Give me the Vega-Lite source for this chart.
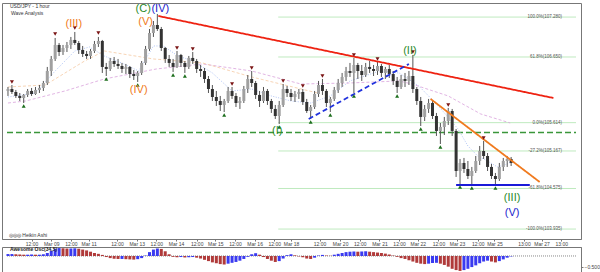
{
 "$schema": "https://vega.github.io/schema/vega-lite/v6.json",
 "background": "white",
 "padding": {"left": 1, "top": 2, "right": 0, "bottom": 0},
 "spacing": -3,
 "config": {
  "view": {"stroke": "#777"},
  "font": "Liberation Sans",
  "axis": {"domainColor": "#777", "tickColor": "#777", "labelColor": "#444", "labelFont": "Liberation Sans", "grid": false, "title": null}
 },
 "datasets": {
  "c": [
   {"t":0,"o":106.114,"h":106.177,"l":106.035,"c":106.145},
   {"t":1,"o":106.145,"h":106.208,"l":106.066,"c":106.098},
   {"t":2,"o":106.098,"h":106.130,"l":106.003,"c":106.035},
   {"t":3,"o":106.035,"h":106.082,"l":105.956,"c":106.003},
   {"t":4,"o":106.003,"h":106.066,"l":105.924,"c":106.051},
   {"t":5,"o":106.051,"h":106.145,"l":106.019,"c":106.114},
   {"t":6,"o":106.114,"h":106.161,"l":106.035,"c":106.066},
   {"t":7,"o":106.066,"h":106.177,"l":106.051,"c":106.130},
   {"t":8,"o":106.130,"h":106.208,"l":106.082,"c":106.161},
   {"t":9,"o":106.161,"h":106.272,"l":106.114,"c":106.240},
   {"t":10,"o":106.240,"h":106.493,"l":106.208,"c":106.429},
   {"t":11,"o":106.429,"h":106.666,"l":106.350,"c":106.619},
   {"t":12,"o":106.619,"h":106.950,"l":106.587,"c":106.840},
   {"t":13,"o":106.840,"h":106.871,"l":106.666,"c":106.729},
   {"t":14,"o":106.729,"h":106.840,"l":106.682,"c":106.792},
   {"t":15,"o":106.792,"h":106.887,"l":106.729,"c":106.840},
   {"t":16,"o":106.840,"h":106.966,"l":106.777,"c":106.919},
   {"t":17,"o":106.919,"h":107.045,"l":106.840,"c":106.871},
   {"t":18,"o":106.871,"h":106.903,"l":106.698,"c":106.761},
   {"t":19,"o":106.761,"h":106.824,"l":106.650,"c":106.698},
   {"t":20,"o":106.698,"h":106.745,"l":106.619,"c":106.666},
   {"t":21,"o":106.666,"h":106.777,"l":106.619,"c":106.745},
   {"t":22,"o":106.745,"h":106.903,"l":106.713,"c":106.855},
   {"t":23,"o":106.855,"h":106.966,"l":106.808,"c":106.903},
   {"t":24,"o":106.903,"h":106.919,"l":106.398,"c":106.493},
   {"t":25,"o":106.493,"h":106.556,"l":106.350,"c":106.461},
   {"t":26,"o":106.461,"h":106.635,"l":106.429,"c":106.587},
   {"t":27,"o":106.587,"h":106.650,"l":106.493,"c":106.540},
   {"t":28,"o":106.540,"h":106.619,"l":106.461,"c":106.508},
   {"t":29,"o":106.508,"h":106.556,"l":106.398,"c":106.461},
   {"t":30,"o":106.461,"h":106.540,"l":106.382,"c":106.493},
   {"t":31,"o":106.493,"h":106.508,"l":106.319,"c":106.382},
   {"t":32,"o":106.382,"h":106.445,"l":106.287,"c":106.350},
   {"t":33,"o":106.350,"h":106.429,"l":106.256,"c":106.398},
   {"t":34,"o":106.398,"h":106.587,"l":106.366,"c":106.556},
   {"t":35,"o":106.556,"h":106.824,"l":106.524,"c":106.777},
   {"t":36,"o":106.777,"h":107.092,"l":106.745,"c":107.029},
   {"t":37,"o":107.029,"h":107.218,"l":106.966,"c":107.155},
   {"t":38,"o":107.155,"h":107.329,"l":107.061,"c":107.092},
   {"t":39,"o":107.092,"h":107.124,"l":106.745,"c":106.792},
   {"t":40,"o":106.792,"h":106.808,"l":106.556,"c":106.619},
   {"t":41,"o":106.619,"h":106.682,"l":106.493,"c":106.556},
   {"t":42,"o":106.556,"h":106.619,"l":106.414,"c":106.493},
   {"t":43,"o":106.493,"h":106.745,"l":106.477,"c":106.682},
   {"t":44,"o":106.682,"h":106.698,"l":106.493,"c":106.556},
   {"t":45,"o":106.556,"h":106.587,"l":106.398,"c":106.493},
   {"t":46,"o":106.493,"h":106.666,"l":106.461,"c":106.635},
   {"t":47,"o":106.635,"h":106.729,"l":106.540,"c":106.587},
   {"t":48,"o":106.587,"h":106.619,"l":106.398,"c":106.461},
   {"t":49,"o":106.461,"h":106.524,"l":106.335,"c":106.429},
   {"t":50,"o":106.429,"h":106.477,"l":106.240,"c":106.303},
   {"t":51,"o":106.303,"h":106.350,"l":106.082,"c":106.145},
   {"t":52,"o":106.145,"h":106.208,"l":105.956,"c":106.019},
   {"t":53,"o":106.019,"h":106.114,"l":105.877,"c":105.956},
   {"t":54,"o":105.956,"h":106.035,"l":105.798,"c":105.893},
   {"t":55,"o":105.893,"h":105.988,"l":105.782,"c":105.956},
   {"t":56,"o":105.956,"h":106.177,"l":105.924,"c":106.114},
   {"t":57,"o":106.114,"h":106.177,"l":105.988,"c":106.035},
   {"t":58,"o":106.035,"h":106.082,"l":105.861,"c":105.924},
   {"t":59,"o":105.924,"h":106.019,"l":105.830,"c":105.956},
   {"t":60,"o":105.956,"h":106.193,"l":105.924,"c":106.145},
   {"t":61,"o":106.145,"h":106.366,"l":106.082,"c":106.303},
   {"t":62,"o":106.303,"h":106.429,"l":106.177,"c":106.240},
   {"t":63,"o":106.240,"h":106.272,"l":105.988,"c":106.051},
   {"t":64,"o":106.051,"h":106.114,"l":105.861,"c":105.956},
   {"t":65,"o":105.956,"h":106.177,"l":105.924,"c":106.114},
   {"t":66,"o":106.114,"h":106.145,"l":105.893,"c":105.956},
   {"t":67,"o":105.956,"h":105.988,"l":105.767,"c":105.830},
   {"t":68,"o":105.830,"h":105.893,"l":105.672,"c":105.719},
   {"t":69,"o":105.719,"h":105.956,"l":105.593,"c":105.893},
   {"t":70,"o":105.893,"h":106.224,"l":105.861,"c":106.145},
   {"t":71,"o":106.145,"h":106.193,"l":106.019,"c":106.082},
   {"t":72,"o":106.082,"h":106.145,"l":105.956,"c":106.019},
   {"t":73,"o":106.019,"h":106.114,"l":105.940,"c":106.066},
   {"t":74,"o":106.066,"h":106.145,"l":105.988,"c":106.098},
   {"t":75,"o":106.098,"h":106.145,"l":105.893,"c":105.940},
   {"t":76,"o":105.940,"h":105.988,"l":105.767,"c":105.798},
   {"t":77,"o":105.798,"h":105.893,"l":105.672,"c":105.861},
   {"t":78,"o":105.861,"h":106.114,"l":105.830,"c":106.066},
   {"t":79,"o":106.066,"h":106.272,"l":106.019,"c":106.208},
   {"t":80,"o":106.208,"h":106.303,"l":106.051,"c":106.114},
   {"t":81,"o":106.114,"h":106.145,"l":105.861,"c":105.924},
   {"t":82,"o":105.924,"h":106.019,"l":105.782,"c":105.988},
   {"t":83,"o":105.988,"h":106.177,"l":105.956,"c":106.130},
   {"t":84,"o":106.130,"h":106.303,"l":106.082,"c":106.240},
   {"t":85,"o":106.240,"h":106.398,"l":106.177,"c":106.335},
   {"t":86,"o":106.335,"h":106.493,"l":106.272,"c":106.429},
   {"t":87,"o":106.429,"h":106.556,"l":106.335,"c":106.398},
   {"t":88,"o":106.398,"h":106.635,"l":106.082,"c":106.524},
   {"t":89,"o":106.524,"h":106.556,"l":106.303,"c":106.429},
   {"t":90,"o":106.429,"h":106.524,"l":106.272,"c":106.366},
   {"t":91,"o":106.366,"h":106.556,"l":106.335,"c":106.493},
   {"t":92,"o":106.493,"h":106.587,"l":106.398,"c":106.461},
   {"t":93,"o":106.461,"h":106.524,"l":106.350,"c":106.429},
   {"t":94,"o":106.429,"h":106.571,"l":106.366,"c":106.508},
   {"t":95,"o":106.508,"h":106.540,"l":106.335,"c":106.398},
   {"t":96,"o":106.398,"h":106.493,"l":106.303,"c":106.461},
   {"t":97,"o":106.461,"h":106.524,"l":106.319,"c":106.382},
   {"t":98,"o":106.382,"h":106.429,"l":106.208,"c":106.272},
   {"t":99,"o":106.272,"h":106.335,"l":106.082,"c":106.177},
   {"t":100,"o":106.177,"h":106.366,"l":106.145,"c":106.303},
   {"t":101,"o":106.303,"h":106.398,"l":106.177,"c":106.272},
   {"t":102,"o":106.272,"h":106.429,"l":106.208,"c":106.350},
   {"t":103,"o":106.350,"h":106.682,"l":106.082,"c":106.145},
   {"t":104,"o":106.145,"h":106.177,"l":105.893,"c":105.956},
   {"t":105,"o":105.956,"h":106.019,"l":105.561,"c":105.704},
   {"t":106,"o":105.704,"h":105.893,"l":105.640,"c":105.830},
   {"t":107,"o":105.830,"h":105.988,"l":105.767,"c":105.924},
   {"t":108,"o":105.924,"h":105.956,"l":105.672,"c":105.719},
   {"t":109,"o":105.719,"h":105.767,"l":105.404,"c":105.483},
   {"t":110,"o":105.483,"h":105.609,"l":105.277,"c":105.546},
   {"t":111,"o":105.546,"h":105.704,"l":105.419,"c":105.640},
   {"t":112,"o":105.640,"h":105.846,"l":105.577,"c":105.798},
   {"t":113,"o":105.798,"h":105.830,"l":105.404,"c":105.483},
   {"t":114,"o":105.483,"h":105.514,"l":104.757,"c":104.851},
   {"t":115,"o":104.851,"h":105.041,"l":104.646,"c":104.978},
   {"t":116,"o":104.978,"h":105.057,"l":104.820,"c":104.883},
   {"t":117,"o":104.883,"h":105.009,"l":104.725,"c":104.772},
   {"t":118,"o":104.772,"h":104.915,"l":104.630,"c":104.851},
   {"t":119,"o":104.851,"h":105.088,"l":104.820,"c":105.009},
   {"t":120,"o":105.009,"h":105.246,"l":104.946,"c":105.167},
   {"t":121,"o":105.167,"h":105.325,"l":105.041,"c":105.088},
   {"t":122,"o":105.088,"h":105.135,"l":104.851,"c":104.915},
   {"t":123,"o":104.915,"h":104.962,"l":104.725,"c":104.772},
   {"t":124,"o":104.772,"h":104.820,"l":104.630,"c":104.725},
   {"t":125,"o":104.725,"h":104.978,"l":104.694,"c":104.915},
   {"t":126,"o":104.915,"h":105.057,"l":104.851,"c":105.009},
   {"t":127,"o":105.009,"h":105.088,"l":104.915,"c":105.041},
   {"t":128,"o":105.041,"h":105.072,"l":104.930,"c":104.978}
  ],
  "ao": [
   {"t":0,"v":0.09},{"t":1,"v":0.09},{"t":2,"v":0.08},{"t":3,"v":0.07},{"t":4,"v":0.06},{"t":5,"v":0.06},{"t":6,"v":0.07},{"t":7,"v":0.06},{"t":8,"v":0.06},{"t":9,"v":0.08},
   {"t":10,"v":0.14},{"t":11,"v":0.24},{"t":12,"v":0.33},{"t":13,"v":0.37},{"t":14,"v":0.36},{"t":15,"v":0.35},{"t":16,"v":0.35},{"t":17,"v":0.36},{"t":18,"v":0.34},{"t":19,"v":0.30},
   {"t":20,"v":0.26},{"t":21,"v":0.20},{"t":22,"v":0.14},{"t":23,"v":0.10},{"t":24,"v":0.05},{"t":25,"v":-0.05},{"t":26,"v":-0.10},{"t":27,"v":-0.13},{"t":28,"v":-0.14},{"t":29,"v":-0.14},
   {"t":30,"v":-0.15},{"t":31,"v":-0.16},{"t":32,"v":-0.17},{"t":33,"v":-0.15},{"t":34,"v":-0.10},{"t":35,"v":0.02},{"t":36,"v":0.18},{"t":37,"v":0.30},{"t":38,"v":0.35},{"t":39,"v":0.33},
   {"t":40,"v":0.22},{"t":41,"v":0.08},{"t":42,"v":-0.04},{"t":43,"v":-0.06},{"t":44,"v":-0.05},{"t":45,"v":-0.07},{"t":46,"v":-0.06},{"t":47,"v":-0.05},{"t":48,"v":-0.08},{"t":49,"v":-0.12},
   {"t":50,"v":-0.18},{"t":51,"v":-0.24},{"t":52,"v":-0.30},{"t":53,"v":-0.34},{"t":54,"v":-0.38},{"t":55,"v":-0.40},{"t":56,"v":-0.36},{"t":57,"v":-0.32},{"t":58,"v":-0.28},{"t":59,"v":-0.22},
   {"t":60,"v":-0.14},{"t":61,"v":-0.04},{"t":62,"v":0.08},{"t":63,"v":0.13},{"t":64,"v":0.06},{"t":65,"v":-0.05},{"t":66,"v":-0.14},{"t":67,"v":-0.22},{"t":68,"v":-0.28},{"t":69,"v":-0.24},
   {"t":70,"v":-0.12},{"t":71,"v":0.04},{"t":72,"v":0.08},{"t":73,"v":0.03},{"t":74,"v":-0.02},{"t":75,"v":-0.06},{"t":76,"v":-0.12},{"t":77,"v":-0.14},{"t":78,"v":-0.08},{"t":79,"v":0.02},
   {"t":80,"v":0.05},{"t":81,"v":0.02},{"t":82,"v":0.01},{"t":83,"v":0.06},{"t":84,"v":0.10},{"t":85,"v":0.14},{"t":86,"v":0.18},{"t":87,"v":0.20},{"t":88,"v":0.21},{"t":89,"v":0.20},
   {"t":90,"v":0.21},{"t":91,"v":0.22},{"t":92,"v":0.20},{"t":93,"v":0.18},{"t":94,"v":0.16},{"t":95,"v":0.14},{"t":96,"v":0.11},{"t":97,"v":0.07},{"t":98,"v":0.02},{"t":99,"v":-0.04},
   {"t":100,"v":-0.10},{"t":101,"v":-0.14},{"t":102,"v":-0.20},{"t":103,"v":-0.26},{"t":104,"v":-0.32},{"t":105,"v":-0.36},{"t":106,"v":-0.38},{"t":107,"v":-0.36},{"t":108,"v":-0.33},{"t":109,"v":-0.32},
   {"t":110,"v":-0.36},{"t":111,"v":-0.42},{"t":112,"v":-0.50},{"t":113,"v":-0.60},{"t":114,"v":-0.66},{"t":115,"v":-0.70},{"t":116,"v":-0.66},{"t":117,"v":-0.60},{"t":118,"v":-0.52},{"t":119,"v":-0.44},
   {"t":120,"v":-0.34},{"t":121,"v":-0.26},{"t":122,"v":-0.22},{"t":123,"v":-0.26},{"t":124,"v":-0.30},{"t":125,"v":-0.24},{"t":126,"v":-0.16},{"t":127,"v":-0.08},{"t":128,"v":-0.02}
  ],
  "mk": [
   {"t":1,"p":106.256,"k":"hi"},{"t":12,"p":107.013,"k":"hi"},{"t":17,"p":107.108,"k":"hi"},{"t":23,"p":107.029,"k":"hi"},
   {"t":43,"p":106.792,"k":"hi"},{"t":47,"p":106.777,"k":"hi"},{"t":57,"p":106.224,"k":"hi"},{"t":62,"p":106.477,"k":"hi"},
   {"t":70,"p":106.272,"k":"hi"},{"t":75,"p":106.193,"k":"hi"},{"t":80,"p":106.350,"k":"hi"},{"t":88,"p":106.682,"k":"hi"},
   {"t":94,"p":106.619,"k":"hi"},{"t":103,"p":106.729,"k":"hi"},{"t":112,"p":105.893,"k":"hi"},{"t":121,"p":105.372,"k":"hi"},
   {"t":4,"p":105.877,"k":"lo"},{"t":25,"p":106.303,"k":"lo"},{"t":33,"p":106.208,"k":"lo"},{"t":42,"p":106.366,"k":"lo"},
   {"t":45,"p":106.350,"k":"lo"},{"t":55,"p":105.735,"k":"lo"},{"t":69,"p":105.546,"k":"lo"},{"t":77,"p":105.625,"k":"lo"},
   {"t":82,"p":105.735,"k":"lo"},{"t":88,"p":106.035,"k":"lo"},{"t":99,"p":106.035,"k":"lo"},{"t":105,"p":105.514,"k":"lo"},
   {"t":110,"p":105.230,"k":"lo"},{"t":115,"p":104.599,"k":"lo"},{"t":118,"p":104.583,"k":"lo"},{"t":124,"p":104.583,"k":"lo"}
  ],
  "ma": [
   {"t":0,"p":106.019,"s":"fast"},{"t":7,"p":106.082,"s":"fast"},{"t":12,"p":106.429,"s":"fast"},{"t":17,"p":106.745,"s":"fast"},{"t":20.75,"p":106.808,"s":"fast"},{"t":24.5,"p":106.666,"s":"fast"},{"t":29.5,"p":106.540,"s":"fast"},{"t":33.25,"p":106.429,"s":"fast"},{"t":37,"p":106.824,"s":"fast"},{"t":39.5,"p":106.824,"s":"fast"},{"t":43.25,"p":106.666,"s":"fast"},{"t":47,"p":106.587,"s":"fast"},{"t":52,"p":106.398,"s":"fast"},{"t":57,"p":106.114,"s":"fast"},{"t":62,"p":106.145,"s":"fast"},{"t":67,"p":106.035,"s":"fast"},{"t":72,"p":105.956,"s":"fast"},{"t":77,"p":105.924,"s":"fast"},{"t":82,"p":106.035,"s":"fast"},{"t":87,"p":106.272,"s":"fast"},{"t":94.5,"p":106.429,"s":"fast"},{"t":99.5,"p":106.398,"s":"fast"},{"t":104.5,"p":106.193,"s":"fast"},{"t":109.5,"p":105.877,"s":"fast"},{"t":114.5,"p":105.514,"s":"fast"},{"t":117,"p":105.246,"s":"fast"},{"t":119.5,"p":105.088,"s":"fast"},{"t":122,"p":105.009,"s":"fast"},{"t":124.5,"p":104.915,"s":"fast"},{"t":127,"p":104.962,"s":"fast"},{"t":128,"p":104.994,"s":"fast"},
   {"t":0,"p":105.924,"s":"slow"},{"t":4.5,"p":105.956,"s":"slow"},{"t":14.5,"p":106.114,"s":"slow"},{"t":24.5,"p":106.303,"s":"slow"},{"t":37.75,"p":106.461,"s":"slow"},{"t":49.5,"p":106.540,"s":"slow"},{"t":62,"p":106.429,"s":"slow"},{"t":74.5,"p":106.224,"s":"slow"},{"t":87,"p":106.240,"s":"slow"},{"t":99.5,"p":106.272,"s":"slow"},{"t":102.75,"p":106.224,"s":"slow"},{"t":112,"p":106.035,"s":"slow"},{"t":120.25,"p":105.751,"s":"slow"},{"t":127.75,"p":105.609,"s":"slow"},
   {"t":0,"p":106.177,"s":"mid"},{"t":9.5,"p":106.208,"s":"mid"},{"t":19.5,"p":106.587,"s":"mid"},{"t":24.5,"p":106.745,"s":"mid"},{"t":37,"p":106.619,"s":"mid"},{"t":49.5,"p":106.556,"s":"mid"},{"t":62,"p":106.335,"s":"mid"},{"t":78.75,"p":106.082,"s":"mid"}
  ],
  "tl": [
   {"t":38.25,"p":107.297,"s":"res"},{"t":138.75,"p":106.003,"s":"res"},
   {"t":76.5,"p":105.672,"s":"chan"},{"t":102,"p":106.540,"s":"chan"},
   {"t":107.5,"p":105.988,"s":"wedge"},{"t":135.25,"p":104.678,"s":"wedge"},
   {"t":114,"p":104.630,"s":"sup"},{"t":132.75,"p":104.630,"s":"sup"}
  ],
  "fib": [
   {"p":107.280,"t":68.75,"t2":144.5,"lab":"100.0%(107.280)"},
   {"p":106.650,"t":68.75,"t2":144.5,"lab":"61.8%(106.650)"},
   {"p":105.614,"t":68.75,"t2":144.5,"lab":"0.0%(105.614)"},
   {"p":105.167,"t":68.75,"t2":144.5,"lab":"-27.2%(105.167)"},
   {"p":104.575,"t":68.75,"t2":144.5,"lab":"-61.8%(104.575)"},
   {"p":103.935,"t":68.75,"t2":144.5,"lab":"-100.0%(103.935)"}
  ],
  "lvl": [{"p":105.459,"t":-0.25,"t2":144.5}],
  "wv": [
   {"t":16.75,"p":107.171,"lab":"(III)","deg":"minor"},
   {"t":35,"p":107.203,"lab":"(V)","deg":"minor"},
   {"t":33.25,"p":106.130,"lab":"(IV)","deg":"minor"},
   {"t":34.4,"p":107.408,"lab":"(C)","deg":"primary"},
   {"t":38.75,"p":107.408,"lab":"(IV)","deg":"inter"},
   {"t":68.5,"p":105.483,"lab":"(I)","deg":"primary"},
   {"t":102.25,"p":106.745,"lab":"(II)","deg":"primary"},
   {"t":128.25,"p":104.425,"lab":"(III)","deg":"primary"},
   {"t":128.25,"p":104.189,"lab":"(V)","deg":"inter"}
  ],
  "notes": [
   {"t":0.5,"p":107.455,"lab":"USD/JPY - 1 hour"},
   {"t":0.75,"p":107.344,"lab":"Wave Analysis"},
   {"t":0.25,"p":103.841,"lab":"◎◎◎ Heikin Ashi"}
  ],
  "zero": [{"t":-0.25,"t2":144.5,"v":0}],
  "osclab": [{"t":0.5,"v":0.32,"lab":"Awesome Osc(34,5)"}]
 },
 "vconcat": [
  {
   "width": 579,
   "height": 236,
   "resolve": {"scale": {"color": "independent", "strokeDash": "independent", "shape": "independent"}},
   "encoding": {
    "x": {"field": "t", "type": "quantitative", "scale": {"domain": [-0.25, 144.5], "nice": false, "zero": false},
     "axis": {"orient": "bottom", "values": [6,11,16,20.5,27.75,32.75,37.75,42.75,48,52.75,57.75,62.75,67.75,72,79.25,84.5,89.5,94.5,99.5,104.25,109.5,114.25,119.5,123.75,131.25,135.75,140.75],
      "labelExpr": "['12:00','Mar 09','12:00','Mar 11','12:00','Mar 13','12:00','Mar 14','12:00','Mar 15','12:00','Mar 16','12:00','Mar 18','12:00','Mar 20','12:00','Mar 21','12:00','Mar 22','12:00','Mar 23','12:00','Mar 25','13:00','Mar 27','13:00'][indexof([6,11,16,20.5,27.75,32.75,37.75,42.75,48,52.75,57.75,62.75,67.75,72,79.25,84.5,89.5,94.5,99.5,104.25,109.5,114.25,119.5,123.75,131.25,135.75,140.75], datum.value)]",
      "labelFontSize": 5, "tickSize": 2, "labelPadding": 0, "labelFlush": false, "labelOverlap": false, "title": null}},
    "y": {"field": "p", "type": "quantitative", "scale": {"domain": [103.778, 107.502], "nice": false, "zero": false},
     "axis": {"orient": "right", "values": [104,104.25,104.5,104.75,105,105.25,105.5,105.75,106,106.25,106.5,106.75,107,107.25], "format": ".3f", "labelFontSize": 5, "tickSize": 2, "labelPadding": 1, "labelFlush": false, "labelOverlap": false, "title": null}}
   },
   "layer": [
    {"data": {"name": "fib"}, "mark": {"type": "rule", "color": "#bfeabf", "strokeWidth": 1}, "encoding": {"x2": {"field": "t2"}}},
    {"data": {"name": "fib"}, "mark": {"type": "text", "align": "right", "baseline": "middle", "fontSize": 4.5, "color": "#555", "dx": -14}, "encoding": {"x": {"field": "t2", "type": "quantitative"}, "text": {"field": "lab"}}},
    {"data": {"name": "lvl"}, "mark": {"type": "rule", "color": "#3a963a", "strokeWidth": 1.5, "strokeDash": [6, 3]}, "encoding": {"x2": {"field": "t2"}}},
    {"data": {"name": "ma"}, "mark": {"type": "line", "strokeWidth": 1, "opacity": 0.8},
     "encoding": {"color": {"field": "s", "type": "nominal", "scale": {"domain": ["fast", "slow", "mid"], "range": ["#9fb6f2", "#d9a3dc", "#f5c9a3"]}, "legend": null},
      "strokeDash": {"field": "s", "type": "nominal", "scale": {"domain": ["fast", "slow", "mid"], "range": [[1, 1.5], [3, 2], [3, 2]]}, "legend": null}}},
    {"data": {"name": "c"}, "mark": {"type": "rule", "color": "#555", "strokeWidth": 1},
     "encoding": {"y": {"field": "l", "type": "quantitative", "scale": {"domain": [103.778, 107.502], "nice": false, "zero": false}, "axis": null}, "y2": {"field": "h"}}},
    {"data": {"name": "c"}, "mark": {"type": "bar", "size": 3},
     "encoding": {"y": {"field": "o", "type": "quantitative", "scale": {"domain": [103.778, 107.502], "nice": false, "zero": false}, "axis": null}, "y2": {"field": "c"},
      "color": {"condition": {"test": "datum.c >= datum.o", "value": "#a0a0a0"}, "value": "#333333"}}},
    {"data": {"name": "tl"}, "mark": {"type": "line", "strokeWidth": 1.8},
     "encoding": {"color": {"field": "s", "type": "nominal", "scale": {"domain": ["res", "chan", "wedge", "sup"], "range": ["#ee2211", "#2233dd", "#f07a1e", "#1a1ad8"]}, "legend": null},
      "strokeDash": {"field": "s", "type": "nominal", "scale": {"domain": ["res", "chan", "wedge", "sup"], "range": [[1, 0], [5, 3], [1, 0], [1, 0]]}, "legend": null}}},
    {"data": {"name": "mk"}, "mark": {"type": "point", "filled": true, "size": 16, "opacity": 1},
     "encoding": {"shape": {"field": "k", "type": "nominal", "scale": {"domain": ["hi", "lo"], "range": ["triangle-down", "triangle-up"]}, "legend": null},
      "color": {"field": "k", "type": "nominal", "scale": {"domain": ["hi", "lo"], "range": ["#7a1414", "#1c6e1c"]}, "legend": null}}},
    {"data": {"name": "wv"}, "mark": {"type": "text", "fontSize": 11, "baseline": "middle", "align": "center", "font": "Liberation Sans"},
     "encoding": {"text": {"field": "lab"}, "color": {"field": "deg", "type": "nominal", "scale": {"domain": ["minor", "primary", "inter"], "range": ["#f07a20", "#2a8a2a", "#2222cc"]}, "legend": null}}},
    {"data": {"name": "notes"}, "mark": {"type": "text", "fontSize": 5, "align": "left", "baseline": "middle", "color": "#333"}, "encoding": {"text": {"field": "lab"}}}
   ]
  },
  {
   "width": 579,
   "height": 25,
   "encoding": {
    "x": {"field": "t", "type": "quantitative", "scale": {"domain": [-0.25, 144.5], "nice": false, "zero": false}, "axis": null},
    "y": {"field": "v", "type": "quantitative", "scale": {"domain": [-0.75, 0.42], "nice": false, "zero": false},
     "axis": {"orient": "right", "values": [-0.5], "format": ".3f", "labelFontSize": 5, "tickSize": 2, "labelPadding": 1, "labelFlush": false, "title": null}}
   },
   "layer": [
    {"data": {"name": "zero"}, "mark": {"type": "rule", "color": "#888", "strokeDash": [1, 1]}, "encoding": {"x2": {"field": "t2"}}},
    {"data": {"name": "ao"},
     "transform": [{"window": [{"op": "lag", "field": "v", "as": "pv"}], "sort": [{"field": "t", "order": "ascending"}]}],
     "mark": {"type": "bar", "size": 3},
     "encoding": {"y2": {"datum": 0}, "color": {"condition": {"test": "datum.v >= datum.pv", "value": "#3a3af0"}, "value": "#b03a3a"}}},
    {"data": {"name": "osclab"}, "mark": {"type": "text", "fontSize": 5, "fontWeight": "bold", "align": "left", "baseline": "middle", "color": "#222"}, "encoding": {"text": {"field": "lab"}}}
   ]
  }
 ]
}
